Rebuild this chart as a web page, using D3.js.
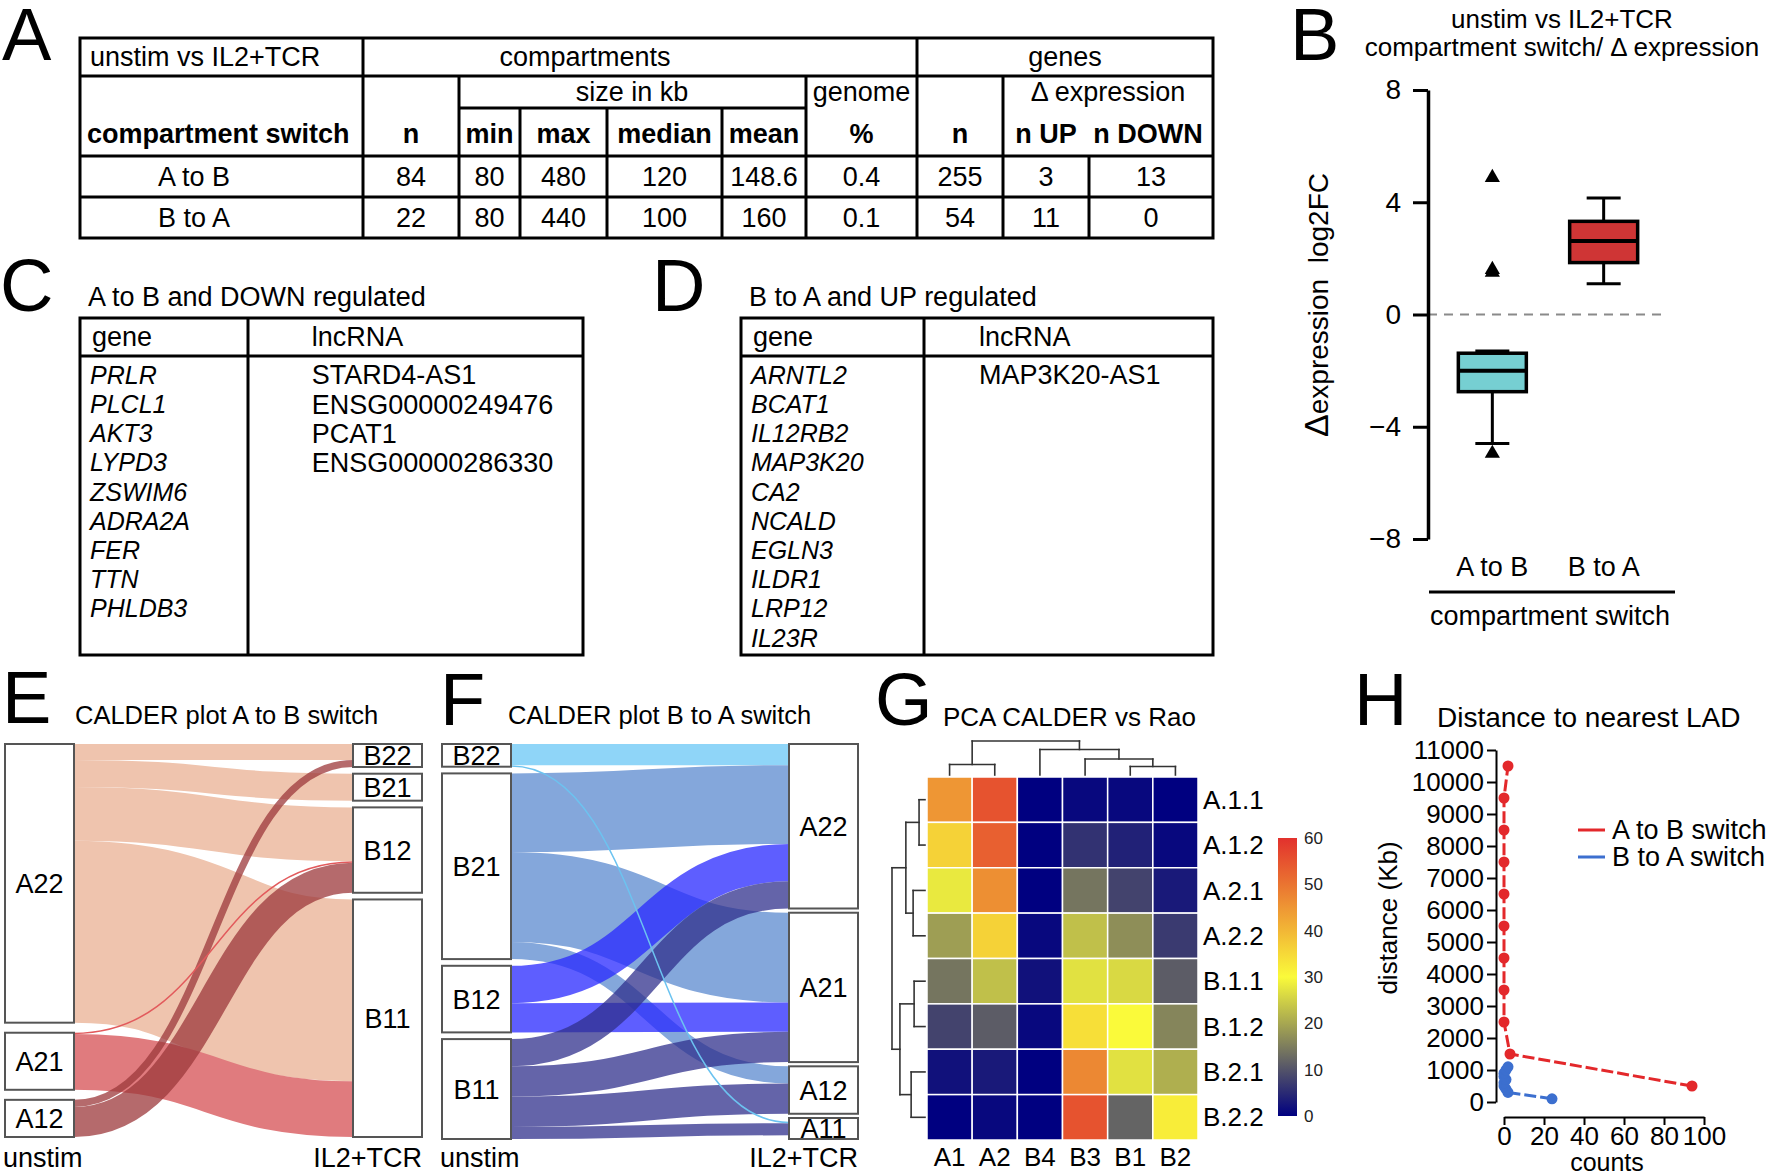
<!DOCTYPE html>
<html>
<head>
<meta charset="utf-8">
<script src="https://cdn.jsdelivr.net/npm/d3@7"></script>
<style>
  body { margin: 0; background: #fff; }
  text { font-family: "Liberation Sans", Arial, Helvetica, sans-serif; }
</style>
</head>
<body>
<div id="fig"></div>
<script>
// ---- A: summary table
const switchTypes = ["A to B", "B to A"];
const compN = [84, 22];
const sizeMin = [80, 80];
const sizeMax = [480, 440];
const sizeMedian = [120, 100];
const sizeMean = [148.6, 160];
const genomePct = [0.4, 0.1];
const geneN = [255, 54];
const geneUp = [3, 11];
const geneDown = [13, 0];

// ---- B: box plot of delta expression
const boxGroups = ["A to B", "B to A"];
const boxLow = [-4.6, 1.1];
const boxQ1 = [-2.75, 1.85];
const boxMed = [-2.0, 2.62];
const boxQ3 = [-1.38, 3.32];
const boxHigh = [-1.3, 4.15];
const boxOutliers = [[4.88, 1.6, 1.5, -4.95], []];
const boxTicks = [-8, -4, 0, 4, 8];

// ---- C / D: gene lists
const downGenes = ["PRLR", "PLCL1", "AKT3", "LYPD3", "ZSWIM6", "ADRA2A", "FER", "TTN", "PHLDB3"];
const downLnc = ["STARD4-AS1", "ENSG00000249476", "PCAT1", "ENSG00000286330"];
const upGenes = ["ARNTL2", "BCAT1", "IL12RB2", "MAP3K20", "CA2", "NCALD", "EGLN3", "ILDR1", "LRP12", "IL23R"];
const upLnc = ["MAP3K20-AS1"];

// ---- E: CALDER A to B
const abLeft = ["A22", "A21", "A12"];
const abRight = ["B22", "B21", "B12", "B11"];
const abSource = ["A22", "A22", "A22", "A22", "A21", "A21", "A12", "A12"];
const abTarget = ["B22", "B21", "B12", "B11", "B12", "B11", "B22", "B12"];
const abValue = [3.6, 6.1, 12.2, 41.1, 0.3, 12.6, 1.6, 6.8];

// ---- F: CALDER B to A
const baLeft = ["B22", "B21", "B12", "B11"];
const baRight = ["A22", "A21", "A12", "A11"];
const baSource = ["B22", "B22", "B21", "B21", "B21", "B12", "B12", "B11", "B11", "B11", "B11"];
const baTarget = ["A22", "A11", "A22", "A21", "A12", "A22", "A21", "A22", "A21", "A12", "A11"];
const baValue = [2.1, 0.15, 7.8, 8.9, 1.7, 3.7, 2.9, 2.7, 3.0, 3.0, 1.2];

// ---- G: PCA heatmap
const pcaCols = ["A1", "A2", "B4", "B3", "B1", "B2"];
const pcaRows = ["A.1.1", "A.1.2", "A.2.1", "A.2.2", "B.1.1", "B.1.2", "B.2.1", "B.2.2"];
const pcaValues = [
  [45, 55, 0, 1, 1, 0],
  [36, 53, 0, 6, 4, 1],
  [28, 46, 0, 14, 8, 3],
  [19, 36, 1, 23, 17, 7],
  [14, 23, 2, 27, 26, 11],
  [8, 11, 1, 34, 30, 16],
  [2, 3, 0, 47, 27, 21],
  [0, 1, 0, 55, 12, 32]
];
const pcaTicks = [0, 10, 20, 30, 40, 50, 60];
const colTree = {h: 1, c: [{h: 0.31, c: ["A1", "A2"]}, {h: 0.75, c: ["B4", {h: 0.47, c: ["B3", {h: 0.25, c: ["B1", "B2"]}]}]}]};
const rowTree = {h: 1, c: [
  {h: 0.58, c: [{h: 0.18, c: ["A.1.1", "A.1.2"]}, {h: 0.36, c: ["A.2.1", "A.2.2"]}]},
  {h: 0.76, c: [{h: 0.33, c: ["B.1.1", "B.1.2"]}, {h: 0.42, c: ["B.2.1", "B.2.2"]}]}
]};

// ---- H: distance to nearest LAD
const abDist = [500, 1500, 2500, 3500, 4500, 5500, 6500, 7500, 8500, 9500, 10500];
const abCounts = [94, 3, 0, 0, 0, 0, 0, 0, 0, 0, 2];
const baDist = [100, 300, 400, 500, 600, 700, 800, 900, 1000, 1100];
const baCounts = [24, 2, 1, 0, 0, 1, 0, 0, 1, 2];
const countTicks = [0, 20, 40, 60, 80, 100];

const svg = d3.select("#fig").append("svg")
  .attr("width", 1772)
  .attr("height", 1175)
  .style("background", "#fff");

// panel letters
[["A", 2, 60], ["B", 1290, 60], ["C", 0, 311], ["D", 652, 311], ["E", 2, 723], ["F", 440, 725], ["G", 875, 725], ["H", 1354, 725]]
  .forEach(d => svg.append("text").attr("x", d[1]).attr("y", d[2]).attr("font-size", 74).text(d[0]));

// ================= A =================
const gA = svg.append("g").attr("stroke", "#000").attr("stroke-width", 3);
const colX = [80, 363, 459, 520, 607, 722, 806, 917, 1003, 1089, 1213];
const rowY = [38, 76, 108, 156, 197, 238];
const mid = i => (colX[i] + colX[i + 1]) / 2;
gA.append("rect").attr("x", 80).attr("y", 38).attr("width", 1133).attr("height", 200).attr("fill", "none");
[[80, 1213, 76], [80, 1213, 156], [80, 1213, 197], [459, 806, 108]].forEach(l =>
  gA.append("line").attr("x1", l[0]).attr("x2", l[1]).attr("y1", l[2]).attr("y2", l[2]));
[[363, 38], [459, 76], [520, 108], [607, 108], [722, 108], [806, 76], [917, 38], [1003, 76], [1089, 156]].forEach(l =>
  gA.append("line").attr("x1", l[0]).attr("x2", l[0]).attr("y1", l[1]).attr("y2", 238));

const tA = svg.append("g").attr("font-size", 27).attr("text-anchor", "middle").style("white-space", "pre");
const tAdd = (x, y, s, opt = {}) => tA.append("text").attr("x", x).attr("y", y).attr("dy", "0.35em")
  .attr("text-anchor", opt.anchor || "middle").attr("font-weight", opt.bold ? "bold" : null).text(s);
tAdd(90, 57, "unstim vs IL2+TCR", {anchor: "start"});
tAdd(585, 57, "compartments");
tAdd(1065, 57, "genes");
tAdd(632, 92, "size  in  kb");
tAdd(mid(6), 92, "genome");
tAdd(1108, 92, "\u0394 expression");
tAdd(87, 134, "compartment switch", {anchor: "start", bold: true});
["n", "min", "max", "median", "mean", "%", "n"].forEach((s, i) => tAdd(mid(i + 1), 134, s, {bold: true}));
tAdd(1046, 134, "n UP", {bold: true});
tAdd(1148, 134, "n DOWN", {bold: true});
const tableCols = [compN, sizeMin, sizeMax, sizeMedian, sizeMean, genomePct, geneN, geneUp, geneDown];
switchTypes.forEach((s, r) => {
  const y = (rowY[3 + r] + rowY[4 + r]) / 2;
  tAdd(194, y, s);
  tableCols.forEach((arr, c) => tAdd(mid(c + 1), y, String(arr[r])));
});

// ================= B =================
const gB = svg.append("g");
const yB = d3.scaleLinear().domain([-8, 8]).range([539, 90]);
const xB = d3.scalePoint().domain(boxGroups).range([1430, 1666]).padding(0.56);
const boxFill = ["#76CFD2", "#CF3535"];
const bw = 68;

gB.append("text").attr("x", 1562).attr("y", 19).attr("dy", "0.35em").attr("font-size", 26)
  .attr("text-anchor", "middle").text("unstim vs IL2+TCR");
gB.append("text").attr("x", 1562).attr("y", 47).attr("dy", "0.35em").attr("font-size", 26)
  .attr("text-anchor", "middle").text("compartment switch/ \u0394 expression");

gB.append("line").attr("x1", 1428).attr("x2", 1666).attr("y1", yB(0)).attr("y2", yB(0))
  .attr("stroke", "#8a8a8a").attr("stroke-width", 2).attr("stroke-dasharray", "9,7");

const axB = gB.append("g").attr("transform", "translate(1428,0)")
  .call(d3.axisLeft(yB).tickValues(boxTicks).tickSize(15).tickSizeOuter(0).tickPadding(12));
axB.select(".domain").attr("stroke-width", 3.5);
axB.selectAll(".tick line").attr("stroke-width", 3);
axB.selectAll(".tick text").attr("font-size", 28).attr("font-family", "Liberation Sans, Arial, sans-serif");

boxGroups.forEach((g, i) => {
  const cx = xB(g);
  gB.append("line").attr("x1", cx).attr("x2", cx).attr("y1", yB(boxQ1[i])).attr("y2", yB(boxLow[i]))
    .attr("stroke", "#000").attr("stroke-width", 3);
  gB.append("line").attr("x1", cx).attr("x2", cx).attr("y1", yB(boxQ3[i])).attr("y2", yB(boxHigh[i]))
    .attr("stroke", "#000").attr("stroke-width", 3);
  [boxLow[i], boxHigh[i]].forEach(v => gB.append("line").attr("x1", cx - 17).attr("x2", cx + 17)
    .attr("y1", yB(v)).attr("y2", yB(v)).attr("stroke", "#000").attr("stroke-width", 3));
  gB.append("rect").attr("x", cx - bw / 2).attr("width", bw)
    .attr("y", yB(boxQ3[i])).attr("height", yB(boxQ1[i]) - yB(boxQ3[i]))
    .attr("fill", boxFill[i]).attr("stroke", "#000").attr("stroke-width", 3.5);
  gB.append("line").attr("x1", cx - bw / 2).attr("x2", cx + bw / 2).attr("y1", yB(boxMed[i])).attr("y2", yB(boxMed[i]))
    .attr("stroke", "#000").attr("stroke-width", 4);
  gB.selectAll(null).data(boxOutliers[i]).join("path")
    .attr("d", d3.symbol(d3.symbolTriangle, 100))
    .attr("transform", d => `translate(${cx},${yB(d)})`).attr("fill", "#000");
  gB.append("text").attr("x", cx).attr("y", 567).attr("dy", "0.35em").attr("font-size", 27)
    .attr("text-anchor", "middle").text(g);
});
gB.append("line").attr("x1", 1429).attr("x2", 1675).attr("y1", 592).attr("y2", 592).attr("stroke", "#000").attr("stroke-width", 3);
gB.append("text").attr("x", 1550).attr("y", 616).attr("dy", "0.35em").attr("font-size", 27)
  .attr("text-anchor", "middle").text("compartment switch");
const yl = gB.append("text").attr("transform", "translate(1318,305) rotate(-90)").attr("dy", "0.35em")
  .attr("text-anchor", "middle").attr("font-size", 28);
yl.append("tspan").attr("font-size", 34).text("\u0394");
yl.append("tspan").text("expression  log2FC").style("white-space", "pre");

// ================= C / D =================
function geneTable(x0, x1, xDiv, title, genes, lnc) {
  const g = svg.append("g");
  g.append("text").attr("x", x0 + 8).attr("y", 297).attr("dy", "0.35em").attr("font-size", 27).text(title);
  g.append("rect").attr("x", x0).attr("y", 318).attr("width", x1 - x0).attr("height", 337)
    .attr("fill", "none").attr("stroke", "#000").attr("stroke-width", 3);
  g.append("line").attr("x1", x0).attr("x2", x1).attr("y1", 356).attr("y2", 356).attr("stroke", "#000").attr("stroke-width", 3);
  g.append("line").attr("x1", xDiv).attr("x2", xDiv).attr("y1", 318).attr("y2", 655).attr("stroke", "#000").attr("stroke-width", 3);
  g.append("text").attr("x", x0 + 12).attr("y", 337).attr("dy", "0.35em").attr("font-size", 27).text("gene");
  const lx = xDiv + (x1 - xDiv) * 0.19;
  g.append("text").attr("x", lx).attr("y", 337).attr("dy", "0.35em").attr("font-size", 27).text("lncRNA");
  const yRow = d3.scaleLinear().domain([0, 1]).range([375, 404.2]);
  g.selectAll("text.gene").data(genes).join("text").attr("class", "gene")
    .attr("x", x0 + 10).attr("y", (d, i) => yRow(i)).attr("dy", "0.35em")
    .attr("font-size", 25).attr("font-style", "italic").text(d => d);
  g.selectAll("text.lnc").data(lnc).join("text").attr("class", "lnc")
    .attr("x", lx).attr("y", (d, i) => yRow(i)).attr("dy", "0.35em")
    .attr("font-size", 27).text(d => d);
}
geneTable(80, 583, 248, "A to B and DOWN regulated", downGenes, downLnc);
geneTable(741, 1213, 924, "B to A and UP regulated", upGenes, upLnc);

// ================= E / F: sankeys =================
function sankey(o) {
  const g = svg.append("g");
  g.append("text").attr("x", o.titleX).attr("y", 715).attr("dy", "0.35em").attr("font-size", 25.5).text(o.title);
  const total = d3.sum(o.val);
  const nMax = Math.max(o.left.length, o.right.length);
  const k = d3.scaleLinear().domain([0, total]).range([0, (o.bottom - o.top) - o.gap * (nMax - 1)]);
  function column(names, key) {
    const vals = names.map(n => d3.sum(o.val.filter((v, i) => o[key][i] === n)));
    const hs = vals.map(v => Math.max(k(v), o.minH || 0));
    const gap = (o.bottom - o.top - d3.sum(hs)) / (names.length - 1);
    const nodes = {};
    let y = o.top;
    names.forEach((n, i) => {
      nodes[n] = {y0: y, y1: y + hs[i], cursor: y + (hs[i] - k(vals[i])) / 2};
      y += hs[i] + gap;
    });
    return nodes;
  }
  const L = column(o.left, "src"), R = column(o.right, "tgt");
  const links = o.val.map((v, i) => ({s: o.src[i], t: o.tgt[i], w: k(v)}));
  o.left.forEach(n => links.filter(l => l.s === n)
    .sort((a, b) => o.right.indexOf(a.t) - o.right.indexOf(b.t))
    .forEach(l => { l.ys = L[n].cursor + l.w / 2; L[n].cursor += l.w; }));
  o.right.forEach(n => links.filter(l => l.t === n)
    .sort((a, b) => o.left.indexOf(a.s) - o.left.indexOf(b.s))
    .forEach(l => { l.yt = R[n].cursor + l.w / 2; R[n].cursor += l.w; }));
  // thin links on top
  links.sort((a, b) => (a.w < 3) - (b.w < 3));
  const link = d3.linkHorizontal();
  g.selectAll("path.link").data(links).join("path").attr("class", "link")
    .attr("d", l => link({source: [o.xl + o.nw, l.ys], target: [o.xr, l.yt]}))
    .attr("fill", "none")
    .attr("stroke", l => l.w < 3 ? o.thin[l.s] : o.colors[l.s])
    .attr("stroke-opacity", l => l.w < 3 ? 1 : o.alphas[l.s])
    .attr("stroke-width", l => Math.max(1.5, l.w));
  [[L, o.left, o.xl], [R, o.right, o.xr]].forEach(([N, names, x]) => {
    names.forEach(n => {
      g.append("rect").attr("x", x).attr("y", N[n].y0).attr("width", o.nw).attr("height", N[n].y1 - N[n].y0)
        .attr("fill", "#fff").attr("stroke", "#555").attr("stroke-width", 2);
      g.append("text").attr("x", x + o.nw / 2).attr("y", (N[n].y0 + N[n].y1) / 2).attr("dy", "0.36em")
        .attr("text-anchor", "middle").attr("font-size", 27).text(n);
    });
  });
  g.append("text").attr("x", o.xl - 2).attr("y", 1158).attr("dy", "0.35em").attr("font-size", 27).text("unstim");
  g.append("text").attr("x", o.xr + o.nw).attr("y", 1158).attr("dy", "0.35em").attr("font-size", 27)
    .attr("text-anchor", "end").text("IL2+TCR");
}
sankey({
  title: "CALDER plot A to B switch", titleX: 75,
  left: abLeft, right: abRight, src: abSource, tgt: abTarget, val: abValue,
  colors: {A22: "#EFC4AE", A21: "#E07B7E", A12: "#9C383B"},
  alphas: {A22: 1, A21: 1, A12: 0.75},
  thin: {A22: "#EFC4AE", A21: "#E25A5C", A12: "#9C383B"},
  xl: 5, xr: 353, nw: 69, top: 744, bottom: 1137, gap: 6.7, minH: 0
});
sankey({
  title: "CALDER plot B to A switch", titleX: 508,
  left: baLeft, right: baRight, src: baSource, tgt: baTarget, val: baValue,
  colors: {B22: "#8FD5F8", B21: "#84A7DB", B12: "#2828FF", B11: "#30308C"},
  alphas: {B22: 1, B21: 1, B12: 0.75, B11: 0.75},
  thin: {B22: "#6CC3F0", B21: "#84A7DB", B12: "#2828FF", B11: "#30308C"},
  xl: 442, xr: 789, nw: 69, top: 744, bottom: 1139, gap: 6.7, minH: 21
});

// ================= G: heatmap =================
const gG = svg.append("g");
gG.append("text").attr("x", 943).attr("y", 717).attr("dy", "0.35em").attr("font-size", 26).text("PCA CALDER vs Rao");
const xG = d3.scaleBand().domain(pcaCols).range([927, 1198]);
const yG = d3.scaleBand().domain(pcaRows).range([777, 1140]);
const colorG = d3.scaleLinear().domain([0, 30, 60]).range(["#000080", "#FAFA3A", "#E2312D"]);
const cells = pcaRows.flatMap((r, i) => pcaCols.map((c, j) => ({r, c, v: pcaValues[i][j]})));
gG.selectAll("rect.cell").data(cells).join("rect").attr("class", "cell")
  .attr("x", d => xG(d.c)).attr("y", d => yG(d.r))
  .attr("width", xG.bandwidth()).attr("height", yG.bandwidth())
  .attr("fill", d => colorG(d.v)).attr("stroke", "#fff").attr("stroke-width", 1.5);
gG.selectAll("text.rl").data(pcaRows).join("text").attr("class", "rl")
  .attr("x", 1203).attr("y", d => yG(d) + yG.bandwidth() / 2).attr("dy", "0.35em")
  .attr("font-size", 26).text(d => d);
gG.selectAll("text.cl").data(pcaCols).join("text").attr("class", "cl")
  .attr("x", d => xG(d) + xG.bandwidth() / 2).attr("y", 1157).attr("dy", "0.35em")
  .attr("text-anchor", "middle").attr("font-size", 26).text(d => d);

// dendrograms
function dendro(node, pos, hpos, draw) {
  if (typeof node === "string") return {p: pos(node), h: 0};
  const kids = node.c.map(ch => dendro(ch, pos, hpos, draw));
  kids.forEach(k => draw(k.p, hpos(k.h), k.p, hpos(node.h)));
  draw(kids[0].p, hpos(node.h), kids[kids.length - 1].p, hpos(node.h));
  return {p: d3.mean(kids, k => k.p), h: node.h};
}
const colH = d3.scaleLinear().domain([0, 1]).range([775, 741]);
const rowH = d3.scaleLinear().domain([0, 1]).range([925, 892]);
const dl = (x1, y1, x2, y2) => gG.append("line").attr("x1", x1).attr("y1", y1).attr("x2", x2).attr("y2", y2)
  .attr("stroke", "#333").attr("stroke-width", 1.6).attr("stroke-linecap", "square");
dendro(colTree, c => xG(c) + xG.bandwidth() / 2, colH, (p1, h1, p2, h2) => dl(p1, h1, p2, h2));
dendro(rowTree, r => yG(r) + yG.bandwidth() / 2, rowH, (p1, h1, p2, h2) => dl(h1, p1, h2, p2));

// colour bar
const grad = svg.append("defs").append("linearGradient").attr("id", "cbar")
  .attr("x1", 0).attr("y1", 1).attr("x2", 0).attr("y2", 0);
grad.selectAll("stop").data(d3.range(0, 61, 5)).join("stop")
  .attr("offset", d => d / 60).attr("stop-color", d => colorG(d));
const yC = d3.scaleLinear().domain([0, 60]).range([1116, 838]);
gG.append("rect").attr("x", 1278).attr("y", 838).attr("width", 19).attr("height", 278).attr("fill", "url(#cbar)");
const axC = gG.append("g").attr("transform", "translate(1297,0)")
  .call(d3.axisRight(yC).tickValues(pcaTicks).tickSize(0).tickPadding(7));
axC.select(".domain").remove();
axC.selectAll("text").attr("font-size", 17).attr("fill", "#222");

// ================= H: line plot =================
const gH = svg.append("g");
gH.append("text").attr("x", 1437).attr("y", 717).attr("dy", "0.35em").attr("font-size", 28).text("Distance to nearest LAD");
const xH = d3.scaleLinear().domain([0, 100]).range([1504, 1704]);
const yH = d3.scaleLinear().domain([0, 11000]).range([1102, 750]);
const axY = gH.append("g").attr("transform", "translate(1496,0)")
  .call(d3.axisLeft(yH).tickValues(d3.range(0, 11001, 1000)).tickFormat(d3.format("d"))
    .tickSize(9).tickSizeOuter(0).tickPadding(3));
const axX = gH.append("g").attr("transform", "translate(0,1117)")
  .call(d3.axisBottom(xH).tickValues(countTicks).tickSize(8).tickSizeOuter(0).tickPadding(2));
[axY, axX].forEach(a => {
  a.selectAll(".domain, .tick line").attr("stroke-width", 2);
  a.selectAll("text").attr("font-size", 26).attr("fill", "#000");
});
gH.append("text").attr("transform", "translate(1388,918) rotate(-90)").attr("dy", "0.35em")
  .attr("text-anchor", "middle").attr("font-size", 26).text("distance (Kb)");
gH.append("text").attr("x", 1607).attr("y", 1162).attr("dy", "0.35em").attr("text-anchor", "middle")
  .attr("font-size", 25).text("counts");

const series = [
  {name: "A to B switch", dist: abDist, counts: abCounts, color: "#E3282B"},
  {name: "B to A switch", dist: baDist, counts: baCounts, color: "#3C6FCF"}
];
const lineH = d3.line().x(d => xH(d[0])).y(d => yH(d[1]));
series.forEach((s, si) => {
  const pts = s.counts.map((c, i) => [c, s.dist[i]]);
  gH.append("path").attr("d", lineH(pts)).attr("fill", "none").attr("stroke", s.color)
    .attr("stroke-width", 3).attr("stroke-dasharray", "12,4");
  gH.selectAll(null).data(pts).join("circle").attr("cx", d => xH(d[0])).attr("cy", d => yH(d[1]))
    .attr("r", 5.5).attr("fill", s.color);
  const ly = 830 + si * 27;
  gH.append("line").attr("x1", 1578).attr("x2", 1605).attr("y1", ly).attr("y2", ly)
    .attr("stroke", s.color).attr("stroke-width", 3);
  gH.append("text").attr("x", 1612).attr("y", ly).attr("dy", "0.35em").attr("font-size", 27).text(s.name);
});
</script>
</body>
</html>
